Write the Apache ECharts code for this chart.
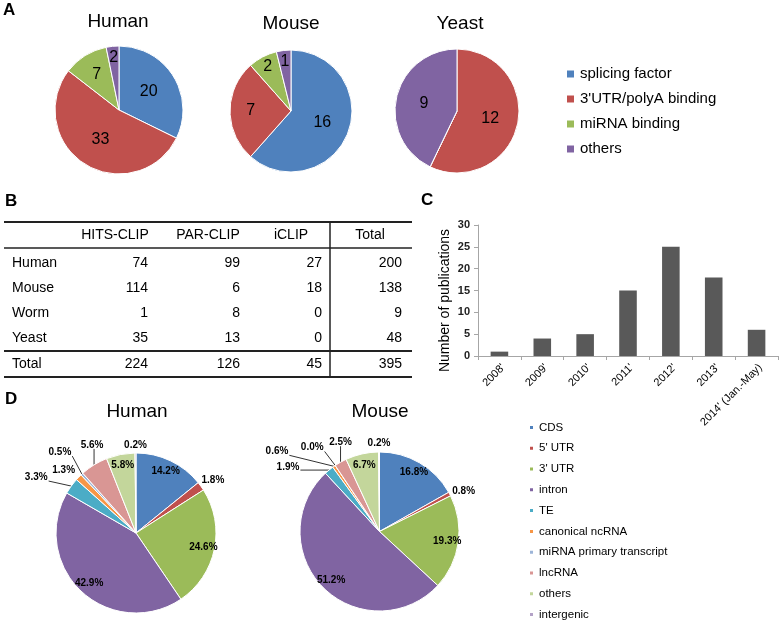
<!DOCTYPE html>
<html><head><meta charset="utf-8">
<script src="https://cdn.jsdelivr.net/npm/echarts@6/dist/echarts.min.js"></script>
<style>html,body{margin:0;padding:0;background:#fff}#c{width:779px;height:620px}</style>
</head><body><div id="c"></div>
<script>
// ---------- DATA ----------
// Panel A: RBP categories per species
const bindCategories = ['splicing factor', "3'UTR/polyA binding", 'miRNA binding', 'others'];
const humanBind = [20, 33, 7, 2];
const mouseBind = [16, 7, 2, 1];
const yeastBind = [0, 12, 0, 9];
// Panel B: table
const tableMethods = ['HITS-CLIP', 'PAR-CLIP', 'iCLIP'];
const tableTotalLabel = 'Total';
const tableSpecies = ['Human', 'Mouse', 'Worm', 'Yeast'];
const hitsClip = [74, 114, 1, 35];
const parClip = [99, 6, 8, 13];
const iClip = [27, 18, 0, 0];
const speciesTotal = [200, 138, 9, 48];
const methodTotal = [224, 126, 45, 395];
// Panel C: publications per year
const years = ["2008'", "2009'", "2010'", "2011'", "2012'", "2013'", "2014' (Jan.-May)"];
const publications = [1, 4, 5, 15, 25, 18, 6];
// Panel D: binding site distribution (%)
const regionCategories = ['CDS', "5' UTR", "3' UTR", 'intron', 'TE', 'canonical ncRNA', 'miRNA primary transcript', 'lncRNA', 'others', 'intergenic'];
const humanRegion = [14.2, 1.8, 24.6, 42.9, 3.3, 1.3, 0.5, 5.6, 5.8, 0.2];
const mouseRegion = [16.8, 0.8, 19.3, 51.2, 1.9, 0.6, 0.0, 2.5, 6.7, 0.2];

// ---------- STYLE ----------
const FONT = 'Arial, "Liberation Sans", Helvetica, sans-serif';
const INK = '#000';
const bindColors = ['#4F81BD', '#C0504D', '#9BBB59', '#8064A2'];
const regionColors = ['#4F81BD', '#C0504D', '#9BBB59', '#8064A2', '#4BACC6', '#F79646', '#9DB5D8', '#D99694', '#C3D69B', '#B3A2C7'];
const insideThreshold = 5.7;
// outside label nudges (px from slice edge to label centre), per region
const humanLabelNudge = {"5' UTR": [12, -6], 'TE': [-35, -9], 'canonical ncRNA': [-15, -7],
  'miRNA primary transcript': [-22, -22], 'lncRNA': [-2, -20], 'intergenic': [0, -8]};
const mouseLabelNudge = {"5' UTR": [14, -3], 'TE': [-41, -3], 'canonical ncRNA': [-57, -15],
  'miRNA primary transcript': [-23, -18], 'lncRNA': [0, -20], 'intergenic': [0, -9]};

const chart = echarts.init(document.getElementById('c'), null, {renderer: 'canvas'});

function edgePoint(values, i, cx, cy, r) {
  const total = values.reduce((a, b) => a + b, 0);
  let cum = 0;
  for (let k = 0; k < i; k++) cum += values[k];
  const mid = (cum + values[i] / 2) / total * Math.PI * 2;
  return [cx + r * Math.sin(mid), cy - r * Math.cos(mid)];
}

function pieA(values, cx, cy, r) {
  const total = values.reduce((a, b) => a + b, 0);
  const factor = i => {
    const s = values[i] / total;
    return s < 0.10 ? 1.5 : (s < 0.30 ? 1.2 : 1.0);
  };
  return {
    type: 'pie', center: [cx, cy], radius: r, startAngle: 90, clockwise: true,
    avoidLabelOverlap: false, animation: false, silent: true,
    itemStyle: {borderColor: '#fff', borderWidth: 1},
    label: {show: true, position: 'inside', fontFamily: FONT, fontSize: 16, color: INK,
      formatter: p => (p.value > 0 ? String(p.value) : '')},
    labelLine: {show: false},
    labelLayout: function (params) {
      const lr = params.labelRect;
      const lx = lr.x + lr.width / 2, ly = lr.y + lr.height / 2;
      const f = factor(params.dataIndex) - 1;
      return {dx: (lx - cx) * f, dy: (ly - cy) * f};
    },
    data: values.map((v, i) => ({name: 'A:' + bindCategories[i], value: v, itemStyle: {color: bindColors[i]}}))
  };
}

function pieD(values, cx, cy, r, nudge) {
  return {
    type: 'pie', center: [cx, cy], radius: r, startAngle: 90, clockwise: true,
    avoidLabelOverlap: false, animation: false, silent: true,
    itemStyle: {borderColor: '#fff', borderWidth: 1},
    label: {fontFamily: FONT, fontSize: 10, fontWeight: 'bold', color: INK,
      formatter: p => p.value.toFixed(1) + '%'},
    labelLine: {length: 6, length2: 4, lineStyle: {color: '#333', width: 1}},
    labelLayout: function (params) {
      const i = params.dataIndex;
      const lr = params.labelRect;
      if (values[i] >= insideThreshold) {
        const lx = lr.x + lr.width / 2, ly = lr.y + lr.height / 2;
        return {dx: (lx - cx) * 0.6, dy: (ly - cy) * 0.6};
      }
      const a = (params.labelLinePoints && params.labelLinePoints[0]) || edgePoint(values, i, cx, cy, r);
      const off = nudge[regionCategories[i]] || [0, 10];
      const x = a[0] + off[0], y = a[1] + off[1];
      const hw = lr.width / 2 + 1, hh = lr.height / 2 - 1;
      const nx = Math.max(x - hw, Math.min(a[0], x + hw));
      const ny = Math.max(y - hh, Math.min(a[1], y + hh));
      const d = Math.hypot(nx - a[0], ny - a[1]);
      const pts = d > 6 ? [[a[0], a[1]], [nx, ny]] : [[a[0], a[1]], [a[0], a[1]]];
      return {x: x, y: y, align: 'center', verticalAlign: 'middle', labelLinePoints: pts};
    },
    data: values.map((v, i) => {
      const inside = v >= insideThreshold;
      return {name: 'D:' + regionCategories[i], value: v, itemStyle: {color: regionColors[i]},
        label: {position: inside ? 'inside' : 'outside'}, labelLine: {show: !inside}};
    })
  };
}

// ---------- TABLE (graphic) ----------
const T = {left: 4, right: 412, top: 222, headerLine: 248, headerY: 235, firstRowY: 263, rowStep: 25,
  totalLine: 351, totalY: 364, bottom: 377, divider: 330, labelX: 12,
  headerCenters: [115, 208, 291, 370], valueRight: [148, 240, 322, 402]};
const tableFont = '14px ' + FONT;
function txt(x, y, s, align, font) {
  return {type: 'text', silent: true, style: {x: x, y: y, text: String(s), font: font || tableFont, fill: INK,
    align: align, textAlign: align, verticalAlign: 'middle', textVerticalAlign: 'middle'}};
}
function hline(y, w) {
  return {type: 'line', silent: true, shape: {x1: T.left, y1: y, x2: T.right, y2: y}, style: {stroke: '#222', lineWidth: w}};
}
const graphics = [];
graphics.push(hline(T.top, 2), hline(T.headerLine, 1.5), hline(T.totalLine, 2), hline(T.bottom, 2));
graphics.push({type: 'line', silent: true, shape: {x1: T.divider, y1: T.top, x2: T.divider, y2: T.bottom}, style: {stroke: '#222', lineWidth: 1.5}});
tableMethods.concat([tableTotalLabel]).forEach((h, j) => graphics.push(txt(T.headerCenters[j], T.headerY, h, 'center')));
tableSpecies.forEach((s, i) => {
  const y = T.firstRowY + i * T.rowStep;
  graphics.push(txt(T.labelX, y, s, 'left'));
  [hitsClip[i], parClip[i], iClip[i], speciesTotal[i]].forEach((v, j) => graphics.push(txt(T.valueRight[j], y, v, 'right')));
});
graphics.push(txt(T.labelX, T.totalY, tableTotalLabel, 'left'));
methodTotal.forEach((v, j) => graphics.push(txt(T.valueRight[j], T.totalY, v, 'right')));

// panel letters and titles
const letterFont = 'bold 17px ' + FONT;
[['A', 3, 10], ['B', 5, 201], ['C', 421, 200], ['D', 5, 399]].forEach(l => graphics.push(txt(l[1], l[2], l[0], 'left', letterFont)));
const titleFont = '19px ' + FONT;
[['Human', 118, 22], ['Mouse', 291, 24], ['Yeast', 460, 24], ['Human', 137, 412], ['Mouse', 380, 412]]
  .forEach(t => graphics.push(txt(t[1], t[2], t[0], 'center', titleFont)));

const option = {
  animation: false,
  textStyle: {fontFamily: FONT},
  graphic: {elements: graphics},
  legend: [
    {data: bindCategories.map(n => 'A:' + n), orient: 'vertical', left: 560, top: 60, height: 110, icon: 'rect',
      itemWidth: 9, itemHeight: 9, itemGap: 7, selectedMode: false,
      formatter: n => n.slice(2), textStyle: {fontSize: 15, lineHeight: 18, color: INK, fontFamily: FONT}},
    {data: regionCategories.map(n => 'D:' + n), orient: 'vertical', left: 523, top: 414, height: 230, icon: 'rect',
      itemWidth: 5, itemHeight: 5, itemGap: 4, selectedMode: false,
      formatter: n => n.slice(2), textStyle: {fontSize: 11.5, lineHeight: 16.8, color: INK, fontFamily: FONT}}
  ],
  grid: {left: 478, right: 1, top: 225, bottom: 264},
  xAxis: {type: 'category', data: years,
    axisLine: {lineStyle: {color: '#a6a6a6'}},
    axisTick: {show: true, length: 4, lineStyle: {color: '#a6a6a6'}},
    axisLabel: {rotate: 45, interval: 0, fontSize: 11, color: INK, margin: 6, verticalAlign: 'top', fontFamily: FONT}},
  yAxis: {type: 'value', min: 0, max: 30, interval: 5,
    name: 'Number of publications', nameLocation: 'middle', nameGap: 26,
    nameTextStyle: {fontSize: 14, color: INK, fontFamily: FONT, padding: [0, 20, 0, 0]},
    axisLine: {show: true, lineStyle: {color: '#a6a6a6'}},
    axisTick: {show: true, length: 4, lineStyle: {color: '#a6a6a6'}},
    splitLine: {show: false},
    axisLabel: {fontSize: 11, fontWeight: 'bold', color: '#222', margin: 8, fontFamily: FONT}},
  series: [
    {type: 'bar', data: publications, barWidth: '41%', itemStyle: {color: '#595959'}, silent: true},
    pieA(humanBind, 119, 110, 64),
    pieA(mouseBind, 291, 111, 61),
    pieA(yeastBind, 457, 111, 62),
    pieD(humanRegion, 136, 533, 80, humanLabelNudge),
    pieD(mouseRegion, 379.5, 531.5, 79.5, mouseLabelNudge)
  ]
};
chart.setOption(option);
</script>
</body></html>
